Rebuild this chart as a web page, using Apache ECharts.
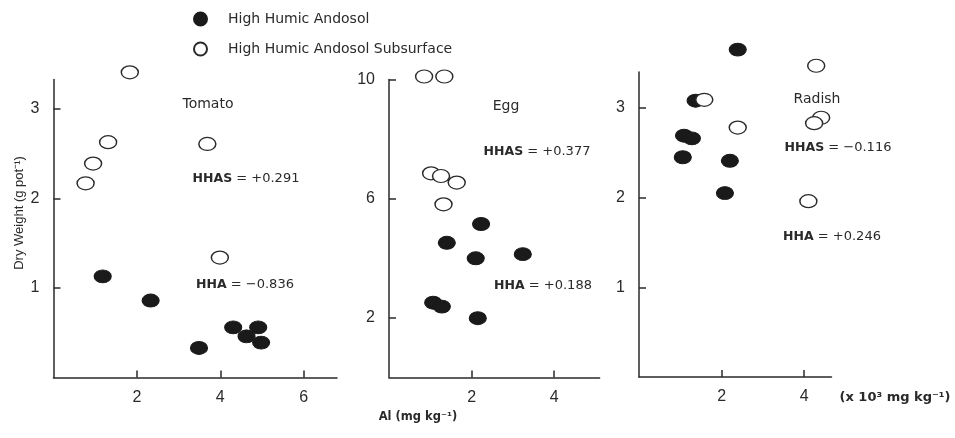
<!DOCTYPE html>
<html>
<head>
<meta charset="utf-8">
<script src="https://cdn.jsdelivr.net/npm/echarts@6/dist/echarts.min.js"></script>
<style>html,body{margin:0;padding:0;background:#fff;}#c{width:955px;height:438px;}</style>
</head>
<body>
<div id="c"></div>
<script>
const seriesNames = ['High Humic Andosol', 'High Humic Andosol Subsurface'];

const tomatoHHA  = [[1.18,1.13],[2.33,0.86],[3.49,0.33],[4.31,0.56],[4.63,0.46],[4.91,0.56],[4.98,0.39]];
const tomatoHHAS = [[1.83,3.41],[1.31,2.63],[0.95,2.39],[0.77,2.17],[3.69,2.61],[3.99,1.34]];
const eggHHA     = [[2.23,5.15],[1.40,4.52],[2.10,4.00],[3.24,4.14],[1.07,2.51],[1.28,2.38],[2.15,1.99]];
const eggHHAS    = [[0.85,10.1],[1.34,10.1],[1.02,6.85],[1.26,6.76],[1.64,6.54],[1.32,5.81]];
const radishHHA  = [[2.39,3.65],[1.37,3.08],[1.09,2.69],[1.28,2.66],[1.06,2.45],[2.20,2.41],[2.08,2.05]];
const radishHHAS = [[4.29,3.47],[1.58,3.09],[2.39,2.78],[4.41,2.89],[4.24,2.83],[4.10,1.96]];

const tomatoXTicks = [2,4,6];
const tomatoYTicks = [1,2,3];
const eggXTicks = [2,4];
const eggYTicks = [2,6,10];
const radishXTicks = [2,4];
const radishYTicks = [1,2,3];

const panelTitles = ['Tomato','Egg','Radish'];
const hhasLabels = ['+0.291','+0.377','\u22120.116'];
const hhaLabels  = ['\u22120.836','+0.188','+0.246'];

const axisColor = '#2a2a2a';
const textColor = '#2a2a2a';
const FONT = 'DejaVu Sans';

function makeAxis(gridIndex, min, max, ticks, isY) {
  return {
    type: 'value', gridIndex, min, max,
    splitLine: {show: false},
    axisLine: {show: true, lineStyle: {color: axisColor, width: 1.5}},
    axisTick: {show: true, inside: true, length: 7, customValues: ticks, lineStyle: {color: axisColor, width: 1.5}},
    axisLabel: {show: true, customValues: ticks, margin: isY ? 14 : 12, color: textColor,
      fontFamily: 'Liberation Sans', fontSize: 16}
  };
}

const grids = [
  {left: 53.5, top: 79.5, width: 283.5, height: 298},
  {left: 389, top: 79.5, width: 210.6, height: 298},
  {left: 639, top: 72, width: 192.5, height: 305}
].map(g => Object.assign(g, {containLabel: false, outerBoundsMode: 'none'}));

const xAxes = [
  makeAxis(0, 0, 6.8, tomatoXTicks, false),
  makeAxis(1, 0, 5.1, eggXTicks, false),
  makeAxis(2, 0, 4.66, radishXTicks, false)
];
const yAxes = [
  makeAxis(0, 0, 3.33, tomatoYTicks, true),
  makeAxis(1, 0, 10, eggYTicks, true),
  makeAxis(2, 0, 3.4, radishYTicks, true)
];

const filledStyle = {color: '#1a1a1a', borderColor: '#1a1a1a', borderWidth: 1, opacity: 1};
const openStyle = {color: '#ffffff', borderColor: '#2a2a2a', borderWidth: 1.3, opacity: 1};

function sc(idx, name, data, style) {
  return {type: 'scatter', name, xAxisIndex: idx, yAxisIndex: idx, data,
    symbol: 'circle', symbolSize: [17, 13], itemStyle: style, clip: false,
    emphasis: {disabled: true}, silent: true, z: style === openStyle ? 3 : 2};
}

const series = [
  sc(0, seriesNames[0], tomatoHHA, filledStyle),
  sc(0, seriesNames[1], tomatoHHAS, openStyle),
  sc(1, seriesNames[0], eggHHA, filledStyle),
  sc(1, seriesNames[1], eggHHAS, openStyle),
  sc(2, seriesNames[0], radishHHA, filledStyle),
  sc(2, seriesNames[1], radishHHAS, openStyle)
];

function txt(text, x, y, opts) {
  return {type: 'text', x, y, rotation: (opts && opts.rotation) || 0, silent: true,
    style: Object.assign({text, align: 'center', verticalAlign: 'middle', fill: textColor,
      fontFamily: FONT, fontSize: 14}, (opts && opts.style) || {})};
}
function corr(label, value, x, y) {
  return txt('{b|' + label + '} = ' + value, x, y, {style: {fontSize: 13,
    rich: {b: {fontWeight: 'bold', fontFamily: FONT, fontSize: 12.5, fill: textColor}}}});
}

const titlePos = [[208,104],[506,106],[817,99]];
const hhasPos = [[246,179],[537,152],[838,148]];
const hhaPos = [[245,285],[543,286],[832,237]];

const graphics = [];
for (let i = 0; i < 3; i++) {
  graphics.push(txt(panelTitles[i], titlePos[i][0], titlePos[i][1], {style: {fontSize: 14}}));
  graphics.push(corr('HHAS', hhasLabels[i], hhasPos[i][0], hhasPos[i][1]));
  graphics.push(corr('HHA', hhaLabels[i], hhaPos[i][0], hhaPos[i][1]));
}
graphics.push(txt('Dry Weight (g pot\u207B\u00B9)', 19, 213, {rotation: Math.PI/2,
  style: {fontFamily: 'Liberation Sans', fontSize: 13}}));
graphics.push(txt('Al (mg kg\u207B\u00B9)', 418, 417, {style: {fontWeight: 'bold', fontSize: 11.5}}));
graphics.push(txt('(x 10\u00B3 mg kg\u207B\u00B9)', 895, 398, {style: {fontWeight: 'bold', fontSize: 13}}));

const chart = echarts.init(document.getElementById('c'), null, {renderer: 'canvas'});
chart.setOption({
  animation: false,
  backgroundColor: '#ffffff',
  legend: {
    data: seriesNames, orient: 'vertical', left: 188, top: 6.5,
    itemWidth: 17, itemHeight: 13, itemGap: 15,
    icon: 'circle', selectedMode: false,
    itemStyle: {opacity: 1},
    textStyle: {fontFamily: FONT, fontSize: 14, color: textColor, padding: [0, 0, 0, 14]}
  },
  grid: grids,
  xAxis: xAxes,
  yAxis: yAxes,
  series,
  graphic: graphics
});
</script>
</body>
</html>
